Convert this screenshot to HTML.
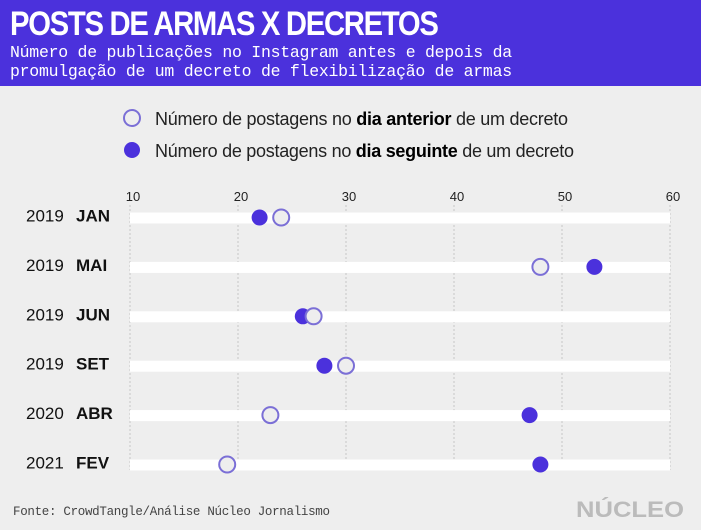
<!DOCTYPE html>
<html><head><meta charset="utf-8"><style>
body{margin:0;width:701px;height:530px;background:#eeeeee;overflow:hidden;font-family:"Liberation Sans",sans-serif;position:relative}
#hdr{position:absolute;left:0;top:0;width:701px;height:86px;background:#4b31dc}
#title{position:absolute;left:10px;top:5px;color:#fff;font-weight:bold;font-size:34px;letter-spacing:-1.5px;transform:scaleX(0.86);transform-origin:left}
.sub{position:absolute;left:10px;color:#fff;font-family:"Liberation Mono",monospace;font-size:16.5px;letter-spacing:-0.25px}
</style></head><body>
<div id="hdr">
<div id="title">POSTS DE ARMAS X DECRETOS</div>
<div class="sub" style="top:43px">Número de publicações no Instagram antes e depois da</div>
<div class="sub" style="top:62px">promulgação de um decreto de flexibilização de armas</div>
</div>
<svg id="chart" width="701" height="530" style="position:absolute;left:0;top:0"></svg>
<script>
const categoriesYear=["2019","2019","2019","2019","2020","2021"];
const categoriesMonth=["JAN","MAI","JUN","SET","ABR","FEV"];
const anteriorValues=[24,48,27,30,23,19];
const seguinteValues=[22,53,26,28,47,48];
const tickValues=[10,20,30,40,50,60];
const NS="http://www.w3.org/2000/svg";
const svg=document.getElementById('chart');
const x=v=>130+(v-10)*10.8;
const y=i=>217.5+i*49.4;
function mk(t,a,txt){const e=document.createElementNS(NS,t);for(const k in a)e.setAttribute(k,a[k]);if(txt!=null)e.textContent=txt;svg.appendChild(e);return e;}
let e=mk('circle',{cx:132,cy:118,r:8,fill:'#eee',stroke:'#7b6fd6','stroke-width':2});

e=mk('text',{x:155,y:125,'font-size':18,fill:'#222','font-family':'Liberation Sans',textLength:413});
e.innerHTML='Número de postagens no <tspan font-weight="bold" fill="#000">dia anterior</tspan> de um decreto';

e=mk('circle',{cx:132,cy:150,r:8,fill:'#4b31dc'});

e=mk('text',{x:155,y:157,'font-size':18,fill:'#222','font-family':'Liberation Sans',textLength:419});
e.innerHTML='Número de postagens no <tspan font-weight="bold" fill="#000">dia seguinte</tspan> de um decreto';

tickValues.forEach(t=>{
  const g=mk('line',{x1:x(t),x2:x(t),y1:205,y2:470,stroke:'#bbb','stroke-width':0.8,'stroke-dasharray':'2,2'});
  
  const l=mk('text',{x:x(t)+3,y:201,'font-size':13,'text-anchor':'middle',fill:'#222'},t);
  
});
categoriesMonth.forEach((m,i)=>{
  const cy=y(i);
  const b=mk('rect',{x:x(10),y:cy-5,width:x(60)-x(10),height:11,fill:'#fff'});
  
  const t=mk('text',{x:26,y:cy+4,'font-size':17,fill:'#111'});
  t.innerHTML=categoriesYear[i]+'  <tspan font-weight="bold" x="76">'+m+'</tspan>';
  
  const s=mk('circle',{cx:x(seguinteValues[i]),cy:cy,r:8,fill:'#4b31dc'});
  
  const a=mk('circle',{cx:x(anteriorValues[i]),cy:cy,r:8,fill:'#eee',stroke:'#7b6fd6','stroke-width':2});
  
});
e=mk('text',{x:13,y:515,'font-size':12.5,fill:'#444','font-family':'Liberation Mono',textLength:317},'Fonte: CrowdTangle/Análise Núcleo Jornalismo');

e=mk('text',{x:684,y:517,'font-size':22,'font-weight':'bold',fill:'#bbb','text-anchor':'end',textLength:108,lengthAdjust:'spacingAndGlyphs'},'NÚCLEO');

</script>
</body></html>
